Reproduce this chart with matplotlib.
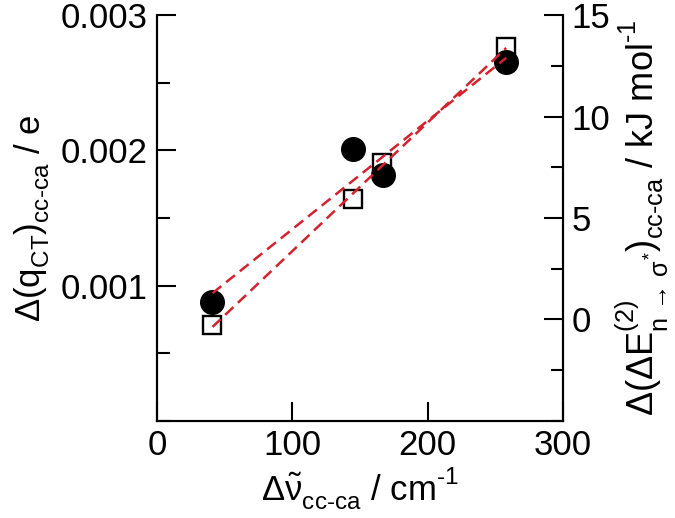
import numpy as np
import matplotlib
matplotlib.use("Agg")
import matplotlib.pyplot as plt
from matplotlib.ticker import MultipleLocator

try:
    import matplotlib._mathtext as _mt
    _mt.FontConstantsBase.sub1 = 0.5
    _mt.FontConstantsBase.sub2 = 0.75
    _mt.FontConstantsBase.sup1 = 0.85
except Exception:
    pass

plt.rcParams['font.family'] = ['Liberation Sans', 'DejaVu Sans']
plt.rcParams['mathtext.fontset'] = 'custom'
plt.rcParams['mathtext.rm'] = 'Liberation Sans'
plt.rcParams['mathtext.it'] = 'Liberation Sans'
plt.rcParams['mathtext.bf'] = 'Liberation Sans:bold'

# data
dnu_circ = [41, 145, 167, 258]
qct = [0.00088, 0.00201, 0.00182, 0.00265]
dnu_sq = [41, 145, 166, 258]
dE2 = [-0.27, 5.92, 7.69, 13.44]

fs = 25
lw = 1.5
red = '#d3212d'

fig = plt.figure(figsize=(6.75, 5.18), dpi=100)
ax1 = fig.add_axes([0.2326, 0.1873, 0.6015, 0.7837])
ax2 = ax1.twinx()
ax1.set_zorder(ax2.get_zorder() + 1)
ax1.patch.set_visible(False)

ax1.set_xlim(0, 300)
ax1.set_ylim(0, 0.003)
ax2.set_ylim(-5, 15)

# squares on right axis
ax2.plot(dnu_sq, dE2, 's', ms=13.5, mfc='white', mec='black', mew=1.7, zorder=2)
# circles on left axis
ax1.plot(dnu_circ, qct, 'o', ms=17, color='black', zorder=3)

# linear fits
xs = np.array([min(dnu_circ), max(dnu_circ)])
p1 = np.polyfit(dnu_circ, qct, 1)
ax1.plot(xs, np.polyval(p1, xs), '--', color=red, lw=1.8, dashes=(4.5, 2.5), zorder=5)
xs2 = np.array([min(dnu_sq), max(dnu_sq)])
p2 = np.polyfit(dnu_sq, dE2, 1)
ax1.plot(xs2, np.polyval(p2, xs2), '--', color=red, lw=1.8, dashes=(4.5, 2.5), zorder=5,
         transform=ax2.transData)

for ax in (ax1, ax2):
    for s in ax.spines.values():
        s.set_linewidth(lw)
ax1.spines['top'].set_visible(False)
ax2.spines['top'].set_visible(False)

ax1.xaxis.set_major_locator(MultipleLocator(100))
ax1.yaxis.set_minor_locator(MultipleLocator(0.0005))
ax2.yaxis.set_minor_locator(MultipleLocator(2.5))
ax2.set_yticks([0, 5, 10, 15])

ax1.tick_params(axis='x', which='major', direction='in', length=14, width=lw,
                labelsize=fs, pad=6, top=False)
ax1.tick_params(axis='y', which='major', direction='in', length=14, width=lw,
                labelsize=fs, pad=7, right=False)
ax1.tick_params(axis='y', which='minor', direction='in', length=9, width=lw, right=False)
ax2.tick_params(axis='y', which='major', direction='in', length=14, width=lw,
                labelsize=fs, pad=6)
ax2.tick_params(axis='y', which='minor', direction='in', length=9, width=lw)

ax1.set_yticks([0.001, 0.002, 0.003])
ax1.set_yticklabels(['0.001', '0.002', '0.003'])

ax1.set_xlabel(r'$\Delta\tilde{\nu}_{\mathrm{cc\text{-}ca}}$ / cm$^{\text{-}1}$', fontsize=fs, labelpad=2)
ax1.set_ylabel(r'$\Delta(\mathrm{q}_{\mathrm{CT}})_{\mathrm{cc\text{-}ca}}$ / e', fontsize=fs, labelpad=6)
ax2.set_ylabel(r'$\Delta(\Delta\mathrm{E}^{(2)}_{\mathrm{n}\,\rightarrow\,\sigma^{*}})_{\mathrm{cc\text{-}ca}}$ / kJ mol$^{\text{-}1}$',
               fontsize=26, labelpad=2)

fig.savefig('out.png', dpi=100)
